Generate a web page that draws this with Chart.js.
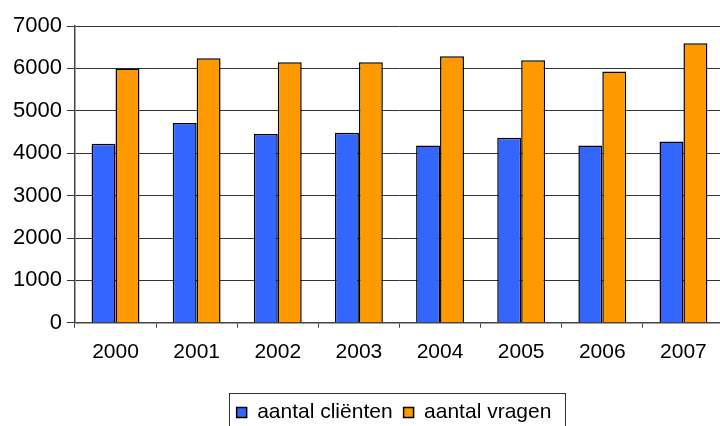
<!DOCTYPE html>
<html lang="nl">
<head>
  <meta charset="UTF-8" />
  <title>aantal cliënten en vragen</title>
  <script src="https://cdn.jsdelivr.net/npm/chart.js"></script>
  <style>
    html, body { margin: 0; padding: 0; background: #fff; overflow: hidden; }
    #wrap { width: 724px; height: 426px; }
  </style>
</head>
<body>
  <div id="wrap"><canvas id="chart" width="724" height="426"></canvas></div>
  <script>
    // data
    const years = ['2000', '2001', '2002', '2003', '2004', '2005', '2006', '2007'];
    const clienten = [4225, 4715, 4450, 4485, 4180, 4365, 4180, 4275];
    const vragen = [6000, 6240, 6145, 6145, 6285, 6190, 5925, 6595];

    const family = 'Arial, "Liberation Sans", sans-serif';

    // legend sits a bit right of centre and low in the original, with a thin frame
    const legendTweak = {
      id: 'legendTweak',
      afterLayout(chart) {
        const lg = chart.legend;
        const dx = 28, dy = 14;
        lg.left += dx; lg.right += dx;
        lg.top += dy; lg.bottom += dy;
      },
      afterDraw(chart) {
        const boxes = chart.legend.legendHitBoxes;
        if (!boxes || !boxes.length) return;
        let l = Infinity, r = -Infinity, t = Infinity;
        boxes.forEach(h => {
          l = Math.min(l, h.left); r = Math.max(r, h.left + h.width);
          t = Math.min(t, h.top);
        });
        const ctx = chart.ctx;
        ctx.save();
        ctx.strokeStyle = '#333';
        ctx.lineWidth = 1;
        ctx.strokeRect(Math.round(l - 8) + 0.5, Math.round(t - 9) + 0.5, Math.round(r - l + 21), 60);
        ctx.restore();
      }
    };

    new Chart(document.getElementById('chart').getContext('2d'), {
      type: 'bar',
      data: {
        labels: years,
        datasets: [
          {
            label: 'aantal cliënten',
            data: clienten,
            backgroundColor: '#3366FF',
            borderColor: '#000',
            borderWidth: 1.5
          },
          {
            label: 'aantal vragen',
            data: vragen,
            backgroundColor: '#FF9900',
            borderColor: '#000',
            borderWidth: 1.5
          }
        ]
      },
      options: {
        responsive: false,
        animation: false,
        categoryPercentage: 0.59,
        barPercentage: 1.0,
        layout: { padding: { top: 26, right: 0, left: 8, bottom: 7 } },
        plugins: {
          tooltip: { enabled: false },
          legend: {
            position: 'bottom',
            labels: {
              color: '#000',
              font: { family: family, size: 21 },
              boxWidth: 10,
              boxHeight: 10,
              padding: 11
            }
          }
        },
        scales: {
          x: {
            grid: { drawOnChartArea: false, color: '#444', tickLength: 5 },
            border: { color: '#444', width: 1.5 },
            ticks: { color: '#000', font: { family: family, size: 21 }, padding: 12 }
          },
          y: {
            min: 0,
            max: 7000,
            ticks: {
              stepSize: 1000,
              color: '#000',
              font: { family: family, size: 22 },
              padding: 5,
              callback: v => String(v)
            },
            grid: { color: '#333', tickLength: 8 },
            border: { color: '#444', width: 1.5 }
          }
        }
      },
      plugins: [legendTweak]
    });
  </script>
</body>
</html>
